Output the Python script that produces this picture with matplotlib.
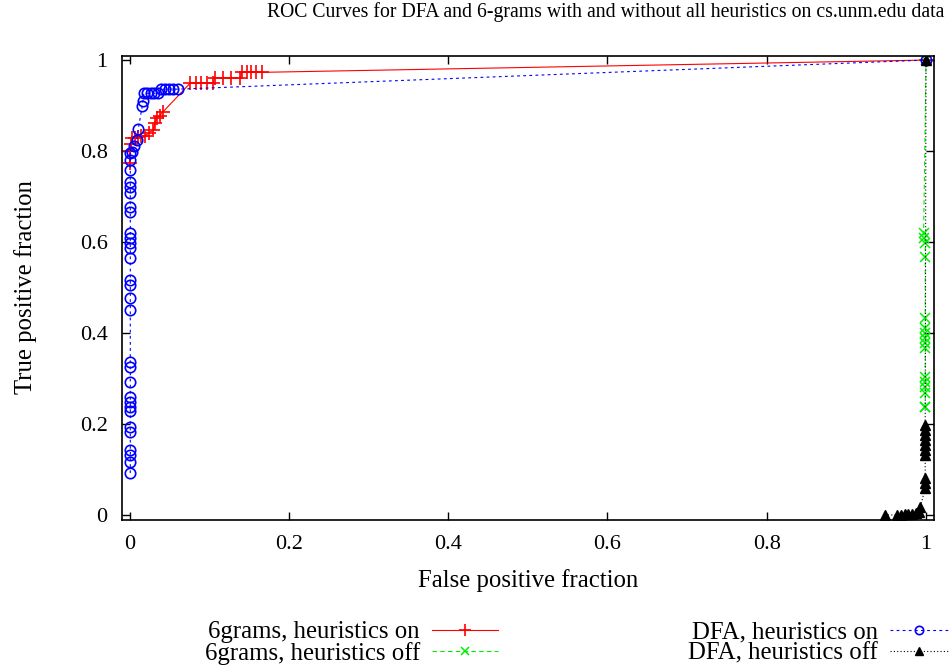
import matplotlib
matplotlib.use("Agg")
import matplotlib.pyplot as plt

plt.rcParams["font.family"] = ["Liberation Serif", "DejaVu Serif"]

# 6grams, heuristics on
ng_on_x = [0.0, 0.001, 0.002, 0.003, 0.007, 0.011, 0.015, 0.019, 0.024, 0.030,
           0.032, 0.034, 0.038, 0.042, 0.076, 0.083, 0.090, 0.097, 0.105,
           0.107, 0.118, 0.128, 0.139, 0.141, 0.147, 0.153, 0.159, 0.166, 1.0]
ng_on_y = [0.774, 0.800, 0.815, 0.828, 0.828, 0.830, 0.832, 0.832, 0.840, 0.846,
           0.862, 0.872, 0.878, 0.886, 0.949, 0.949, 0.949, 0.949, 0.949,
           0.961, 0.961, 0.961, 0.961, 0.973, 0.973, 0.973, 0.973, 0.973, 1.0]

# 6grams, heuristics off
ng_off_x = [0.999, 0.999, 0.999, 0.999, 0.999, 0.999, 0.999, 0.999, 0.999,
            0.999, 0.999, 0.999, 0.999, 0.999, 0.998, 0.997, 1.0]
ng_off_y = [0.238, 0.238, 0.267, 0.282, 0.293, 0.304, 0.366, 0.377, 0.388,
            0.400, 0.410, 0.432, 0.568, 0.597, 0.608, 0.619, 1.0]

# DFA, heuristics on
dfa_on_x = [0.001] * 30 + [0.003, 0.006, 0.009, 0.011, 0.016, 0.017,
                           0.018, 0.022, 0.027, 0.031, 0.036,
                           0.040, 0.045, 0.050, 0.055, 0.061, 1.0]
dfa_on_y = [0.092, 0.117, 0.132, 0.143, 0.183, 0.194, 0.229, 0.238, 0.249, 0.260,
            0.293, 0.326, 0.337, 0.451, 0.476, 0.505, 0.516, 0.564, 0.586, 0.597,
            0.608, 0.619, 0.667, 0.678, 0.707, 0.722, 0.733, 0.758, 0.780, 0.795,
            0.797, 0.812, 0.824, 0.848, 0.899, 0.911,
            0.927, 0.927, 0.927, 0.927, 0.927,
            0.936, 0.936, 0.936, 0.936, 0.936, 1.0]

# DFA, heuristics off
dfa_off_x = [0.948, 0.963, 0.969, 0.973, 0.978, 0.982, 0.987, 0.991, 0.993,
             0.999, 0.999, 0.999, 0.999, 0.999, 0.999, 0.999, 0.999, 0.999,
             0.999, 1.0]
dfa_off_y = [0.0, 0.0, 0.0, 0.002, 0.002, 0.003, 0.005, 0.007, 0.018,
             0.059, 0.070, 0.081, 0.132, 0.143, 0.154, 0.165, 0.176, 0.187,
             0.198, 1.0]

ticks = [0, 0.2, 0.4, 0.6, 0.8, 1]
tick_labels = ["0", "0.2", "0.4", "0.6", "0.8", "1"]

fig = plt.figure(figsize=(9.51, 6.68), dpi=100)
ax = fig.add_axes([0.1278, 0.2223, 0.8543, 0.6946])

l1, = ax.plot(ng_on_x, ng_on_y, color="#ff0000", lw=0.8, marker="+", ms=10,
              mew=1.2, label="6grams, heuristics on")
l2, = ax.plot(ng_off_x, ng_off_y, color="#00ee00", lw=0.8, ls=(0, (4, 3)),
              marker="x", ms=7, mew=1.1, label="6grams, heuristics off")
l3, = ax.plot(dfa_on_x, dfa_on_y, color="#0000ff", lw=0.8, ls=(0, (2.5, 3)),
              marker="o", ms=7.5, mfc="none", mew=1.2, label="DFA, heuristics on")
l4, = ax.plot(dfa_off_x, dfa_off_y, color="black", lw=0.8, ls=(0, (1, 2)),
              marker="^", ms=7, label="DFA, heuristics off")

ax.set_xlim(-0.01, 1.01)
ax.set_ylim(-0.01, 1.01)
ax.set_xticks(ticks, tick_labels)
ax.set_yticks(ticks, tick_labels)
ax.tick_params(direction="in", length=6, width=1, top=True, right=True,
               labelsize=16)
ax.tick_params(axis="x", pad=11)
ax.tick_params(axis="y", pad=10)
for s in ax.spines.values():
    s.set_linewidth(1.2)

ax.set_xlabel("False positive fraction", fontsize=17.8, labelpad=11)
ax.set_ylabel("True positive fraction", fontsize=17.8, labelpad=31)
fig.text(606 / 951, 1 - 12 / 668,
         "ROC Curves for DFA and 6-grams with and without all heuristics on cs.unm.edu data",
         ha="center", va="center", fontsize=14.2)

leg_kw = dict(frameon=False, markerfirst=False, fontsize=17.8,
              handletextpad=0.49, labelspacing=-0.05, numpoints=1,
              markerscale=0.8, borderpad=0, borderaxespad=0)
fig.legend(handles=[l1, l2], loc="center right", handlelength=2.67,
           bbox_to_anchor=(498 / 951, 1 - 643 / 668), **leg_kw)
fig.legend(handles=[l3, l4], loc="center right", handlelength=2.35,
           bbox_to_anchor=(948 / 951, 1 - 643 / 668), **leg_kw)

fig.savefig("out.png", dpi=100)
